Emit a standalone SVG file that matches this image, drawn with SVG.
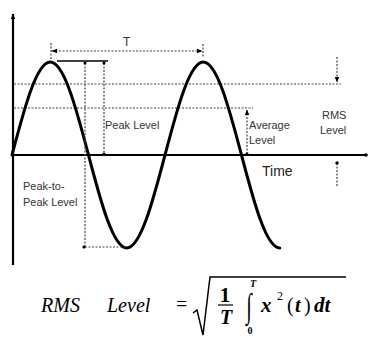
<svg xmlns="http://www.w3.org/2000/svg" width="369" height="338" viewBox="0 0 369 338">
<defs>
<style>
.axis{stroke:#000;stroke-width:2.2;fill:none}
.wave{stroke:#000;stroke-width:3;fill:none;stroke-linecap:round}
.dash{stroke:#444;stroke-width:1.2;fill:none;stroke-dasharray:2 1.5}
.solid{stroke:#000;stroke-width:1.4;fill:none}
.lbl{font-family:"Liberation Sans",Arial,sans-serif;font-size:11px;fill:#333}
.time{font-family:"Liberation Sans",Arial,sans-serif;font-size:14px;fill:#222}
.f{font-family:"Liberation Serif","Times New Roman",serif;font-style:italic;fill:#000}
.fb{font-family:"Liberation Serif","Times New Roman",serif;font-style:italic;font-weight:bold;fill:#000}
.fu{font-family:"Liberation Serif","Times New Roman",serif;fill:#000}
</style>
<marker id="ah" viewBox="0 0 10 10" refX="9" refY="5" markerWidth="6" markerHeight="6" orient="auto-start-reverse" markerUnits="userSpaceOnUse">
<path d="M0,1 L10,5 L0,9 Z" fill="#000"/>
</marker>
</defs>
<rect width="369" height="338" fill="#fff"/>
<g id="axes">
<line class="axis" x1="13" y1="265" x2="13" y2="14" marker-end="url(#ah)"/>
<line class="axis" x1="13" y1="155" x2="365" y2="155"/>
<circle cx="366" cy="155" r="1.8" fill="#000"/>
</g>
<g id="levels">
<line class="dash" x1="14" y1="84" x2="341" y2="84"/>
<line class="dash" x1="14" y1="108" x2="253" y2="108"/>
</g>
<g id="wave">
<path class="wave" d="M12,155 C24.470,107.4 36.66,62 50.25,62 C63.84,62 76.03,107.4 88.5,155 C100.97,202.6 113.16,248 126.75,248 C140.34,248 152.53,202.6 165,155 C177.47,107.4 189.66,62 203.25,62 C216.84,62 229.03,107.4 241.5,155 C253.97,202.6 266.16,248 279.75,248"/>
</g>
<g id="connectors">
<line class="dash" x1="51" y1="43" x2="51" y2="59"/>
<line class="dash" x1="203" y1="44" x2="203" y2="58"/>
<line class="dash" x1="52" y1="51" x2="202" y2="51" marker-start="url(#ah)" marker-end="url(#ah)"/>
<line class="solid" x1="57" y1="61" x2="108" y2="61"/>
<line class="dash" x1="85" y1="63" x2="85" y2="247"/>
<circle cx="85" cy="63" r="1.5" fill="#000"/>
<line class="dash" x1="85" y1="247" x2="127" y2="247"/>
<circle cx="84" cy="247" r="1.6" fill="#000"/>
<line class="dash" x1="104" y1="63" x2="104" y2="155"/>
<circle cx="104" cy="63" r="1.5" fill="#000"/>
<circle cx="104" cy="154" r="1.6" fill="#000"/>
<line class="dash" x1="247" y1="154" x2="247" y2="110" marker-end="url(#ah)"/>
<circle cx="247" cy="154" r="1.6" fill="#000"/>
<line class="dash" x1="337" y1="57" x2="337" y2="82" marker-end="url(#ah)"/>
<line class="dash" x1="337" y1="163" x2="337" y2="186"/>
<circle cx="337" cy="163" r="1.7" fill="#000"/>
</g>
<g id="labels">
<text class="lbl" x="123" y="46" style="font-size:12px">T</text>
<text class="lbl" x="105" y="129">Peak Level</text>
<text class="lbl" x="249" y="129">Average</text>
<text class="lbl" x="249" y="144">Level</text>
<text class="lbl" x="322" y="119">RMS</text>
<text class="lbl" x="320" y="134">Level</text>
<text class="time" x="262" y="176">Time</text>
<text class="lbl" x="23" y="190">Peak-to-</text>
<text class="lbl" x="23" y="206">Peak Level</text>
</g>
<g id="formula">
<text class="f" x="41" y="312" font-size="20">RMS</text>
<text class="f" x="107" y="312" font-size="20">Level</text>
<text class="fu" x="176" y="311" font-size="20">=</text>
<path d="M193,313 L197,310 L203,335 L210,277 L346,277" fill="none" stroke="#000" stroke-width="1.5"/>
<text class="fu" x="225" y="302" font-size="21" font-weight="bold" text-anchor="middle">1</text>
<line x1="218" y1="305" x2="233" y2="305" stroke="#000" stroke-width="1.2"/>
<text class="fb" x="226" y="324" font-size="20" text-anchor="middle">T</text>
<text class="fu" transform="translate(249,317) scale(1,1.7)" font-size="20" font-weight="bold" text-anchor="middle">∫</text>
<text class="fb" x="253" y="287" font-size="10" text-anchor="middle">T</text>
<text class="fu" x="250" y="334" font-size="10" font-weight="bold" text-anchor="middle">0</text>
<text class="fb" x="261" y="312" font-size="21">x</text>
<text class="fu" x="277" y="300" font-size="12">2</text>
<text class="fu" x="287" y="312" font-size="20">(</text>
<text class="fb" x="295" y="312" font-size="20">t</text>
<text class="fu" x="304" y="312" font-size="20">)</text>
<text class="fb" x="314" y="312" font-size="21">dt</text>
</g>
</svg>
